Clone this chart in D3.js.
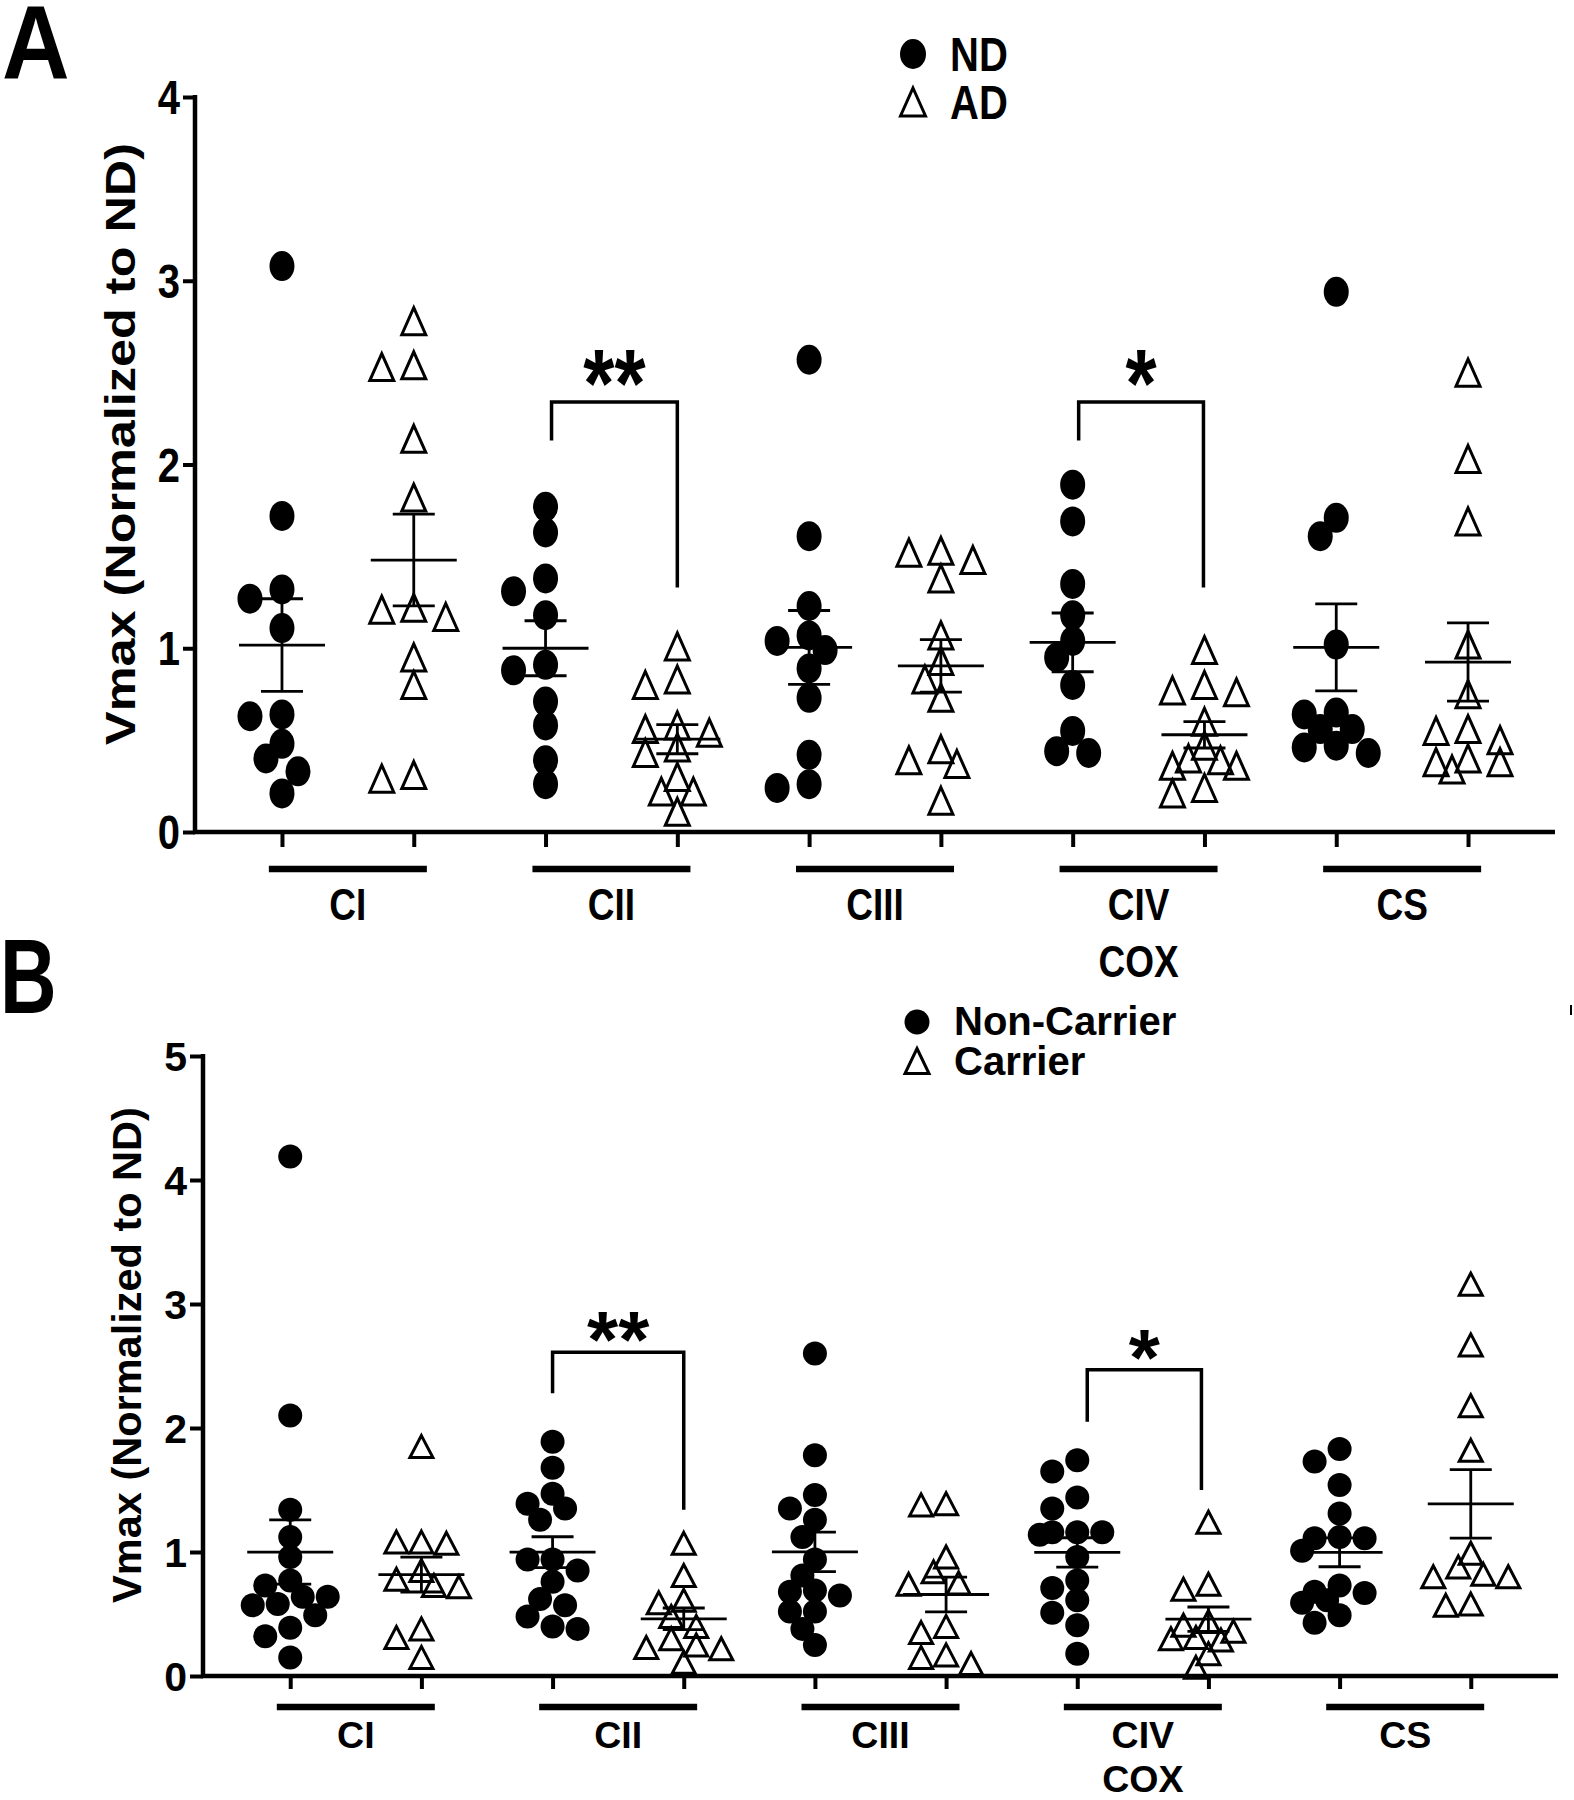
<!DOCTYPE html>
<html><head><meta charset="utf-8">
<script src="https://cdn.jsdelivr.net/npm/d3@7"></script>
<style>
body{margin:0;background:#fff}
svg{display:block}
text{font-family:"Liberation Sans",Arial,Helvetica,sans-serif;font-weight:bold;fill:#000}
</style>
</head><body>
<svg id="chart" width="1574" height="1800"></svg>
<script>
// ---------------- DATA ----------------
const complexes = ["CI","CII","CIII","CIV","CS"];
const categoryLabels = [["CI"],["CII"],["CIII"],["CIV","COX"],["CS"]];
const ticksA = [0,1,2,3,4];
const ticksB = [0,1,2,3,4,5];
const legendA = ["ND","AD"];
const legendB = ["Non-Carrier","Carrier"];
const yTitle = "Vmax (Normalized to ND)";

// Panel A: ND (filled circles) and AD (open triangles)
const A_ND_CI   = [3.08,1.72,1.32,1.27,1.11,0.63,0.64,0.48,0.40,0.33,0.21];
const A_ND_CII  = [1.77,1.63,1.38,1.31,1.18,0.91,0.88,0.71,0.58,0.39,0.26];
const A_ND_CIII = [2.57,1.61,1.23,1.07,1.04,0.99,0.89,0.73,0.42,0.26,0.24];
const A_ND_CIV  = [1.89,1.69,1.35,1.18,1.04,0.95,0.80,0.55,0.44,0.43];
const A_ND_CS   = [2.94,1.71,1.61,1.02,0.65,0.64,0.56,0.56,0.47,0.46,0.43];

const A_AD_CI   = [2.78,2.54,2.53,2.14,1.82,1.22,1.21,1.17,0.95,0.80,0.31,0.29];
const A_AD_CII  = [1.01,0.83,0.80,0.58,0.56,0.54,0.46,0.43,0.30,0.22,0.22,0.11];
const A_AD_CIII = [1.53,1.52,1.48,1.38,1.07,0.93,0.83,0.73,0.45,0.39,0.37,0.17];
const A_AD_CIV  = [0.99,0.80,0.77,0.76,0.60,0.47,0.40,0.39,0.36,0.36,0.24,0.21];
const A_AD_CS   = [2.50,2.03,1.69,1.02,0.75,0.56,0.55,0.50,0.40,0.38,0.38,0.34];

// Panel B: Non-Carrier (filled circles) and Carrier (open triangles)
const B_NC_CI   = [4.19,2.10,1.34,1.12,0.96,0.77,0.73,0.64,0.64,0.58,0.57,0.49,0.39,0.32,0.15];
const B_NC_CII  = [1.89,1.68,1.47,1.39,1.35,1.26,0.94,0.94,0.85,0.76,0.62,0.57,0.48,0.40,0.38];
const B_NC_CIII = [2.60,1.78,1.46,1.35,1.26,1.12,0.94,0.81,0.69,0.68,0.65,0.52,0.52,0.38,0.25];
const B_NC_CIV  = [1.74,1.65,1.44,1.35,1.16,1.16,1.16,1.14,0.96,0.77,0.71,0.61,0.51,0.41,0.18];
const B_NC_CS   = [1.83,1.73,1.54,1.31,1.12,1.11,1.11,1.01,0.73,0.68,0.67,0.61,0.59,0.49,0.43];

const B_C_CI    = [1.85,1.08,1.08,1.07,0.85,0.78,0.73,0.72,0.38,0.31,0.15];
const B_C_CII   = [1.07,0.81,0.61,0.59,0.48,0.40,0.30,0.25,0.23,0.22,0.11];
const B_C_CIII  = [1.39,1.38,0.96,0.84,0.75,0.74,0.40,0.35,0.17,0.15,0.10];
const B_C_CIV   = [1.24,0.74,0.70,0.44,0.41,0.36,0.31,0.30,0.29,0.18,0.07];
const B_C_CS    = [3.16,2.67,2.18,1.82,0.99,0.88,0.82,0.80,0.80,0.58,0.57];

// significance brackets: complex index, stars, bracket top, left leg end, right leg end (data units)
const sigA = [
  {c:1, stars:"**", top:2.34, left:2.13, right:1.33},
  {c:3, stars:"*",  top:2.34, left:2.13, right:1.33}
];
const sigB = [
  {c:1, stars:"**", top:2.61, left:2.28, right:1.34},
  {c:3, stars:"*",  top:2.47, left:2.05, right:1.50}
];

// ---------------- DRAWING ----------------
const svg = d3.select("#chart");

function text(g, x, y, str, fs, sx, sy, anchor, rot) {
  let t = `translate(${x},${y})`;
  if (rot) t += ` rotate(${rot})`;
  t += ` scale(${sx},${sy})`;
  return g.append("text").attr("transform", t)
    .attr("font-size", fs).attr("text-anchor", anchor || "start").text(str);
}

// compact beeswarm: lanes limited to +-maxK steps, overlap allowed up to a threshold
function swarm(values, yS, cx, step, w, h, maxK, thr) {
  const order = values.map((v,i)=>i).sort((a,b)=>values[b]-values[a]);
  const placed = [];
  const out = [];
  const cands = [0];
  for (let k = 1; k <= maxK; k++) { cands.push(-k); cands.push(k); }
  for (const i of order) {
    const y = yS(values[i]);
    let best = null, bestPen = Infinity;
    for (const k of cands) {
      const x = cx + k*step;
      let pen = 0;
      placed.forEach(p => {
        const d = ((p.x-x)/w)**2 + ((p.y-y)/h)**2;
        if (d < thr) pen += (thr - d);
      });
      pen += Math.abs(k)*1e-6;
      if (pen < bestPen - 1e-9) { bestPen = pen; best = x; }
      if (pen < 1e-3) { best = x; break; }
    }
    placed.push({x:best,y});
    out.push({x:best,y,v:values[i]});
  }
  return out;
}

function panel(cfg) {
  const g = svg.append("g");
  const keys = [];
  complexes.forEach(c => { keys.push(c+"|0"); keys.push(c+"|1"); });
  const x = d3.scalePoint().domain(keys).range([cfg.x0, cfg.x1]).padding(cfg.pad);
  const y = d3.scaleLinear().domain([0, cfg.ymax]).range([cfg.yb, cfg.yt]);
  const sy = cfg.sy;

  // y axis
  const yAx = g.append("g").attr("transform", `translate(${cfg.x0},0)`)
    .call(d3.axisLeft(y).tickValues(cfg.ticks).tickSize(cfg.ytick).tickFormat(""));
  yAx.select(".domain").remove();
  yAx.selectAll(".tick line").attr("stroke","#000").attr("stroke-width",4);
  g.append("line").attr("x1",cfg.x0).attr("x2",cfg.x0).attr("y1",y(cfg.ymax)-2).attr("y2",cfg.yb+2)
    .attr("stroke","#000").attr("stroke-width",4.5);
  cfg.ticks.forEach(t => {
    text(g, cfg.x0 - cfg.ytick - 3, y(t) + 0.716*cfg.tickFs*sy/2, String(t), cfg.tickFs, 1, sy, "end");
  });

  // x axis
  const xAx = g.append("g").attr("transform", `translate(0,${cfg.yb})`)
    .call(d3.axisBottom(x).tickSize(cfg.xtick).tickFormat(""));
  xAx.select(".domain").remove();
  xAx.selectAll(".tick line").attr("stroke","#000").attr("stroke-width",4);
  g.append("line").attr("x1",cfg.x0-2).attr("x2",cfg.x1).attr("y1",cfg.yb).attr("y2",cfg.yb)
    .attr("stroke","#000").attr("stroke-width",4.5);

  // group underline bars and labels
  complexes.forEach((c, i) => {
    const cx = (x(c+"|0") + x(c+"|1"))/2;
    g.append("line").attr("x1",cx-79).attr("x2",cx+79).attr("y1",cfg.barY).attr("y2",cfg.barY)
      .attr("stroke","#000").attr("stroke-width",6.5);
    categoryLabels[i].forEach((lab, j) => {
      text(g, cx, cfg.labY + j*cfg.labGap, lab, cfg.labFs, 1, sy, "middle");
    });
  });

  // data
  cfg.series.forEach((ser, s) => {
    ser.forEach((vals, i) => {
      const cx = x(complexes[i]+"|"+s);
      const pts = s === 0
        ? swarm(vals, y, cx, cfg.step, cfg.mw, cfg.mh, cfg.maxK, 0.62)
        : swarm(vals, y, cx, cfg.step, cfg.tw+3, cfg.th+4, cfg.maxK, 0.5);
      if (s === 0) {
        g.selectAll(null).data(pts).join("ellipse")
          .attr("cx", d=>d.x).attr("cy", d=>d.y).attr("rx", cfg.mw/2).attr("ry", cfg.mh/2)
          .attr("fill","#000");
      } else {
        const tw = cfg.tw, th = cfg.th;
        g.selectAll(null).data(pts).join("path")
          .attr("d", d => `M${d.x},${d.y-th/2}L${d.x+tw/2},${d.y+th/2}L${d.x-tw/2},${d.y+th/2}Z`)
          .attr("fill","none").attr("stroke","#000").attr("stroke-width",3)
          .attr("stroke-linejoin","miter");
      }
      // mean and SEM
      const m = d3.mean(vals);
      const se = d3.deviation(vals)/Math.sqrt(vals.length);
      const lw = 2.8;
      g.append("line").attr("x1",cx-43).attr("x2",cx+43).attr("y1",y(m)).attr("y2",y(m))
        .attr("stroke","#000").attr("stroke-width",lw);
      g.append("line").attr("x1",cx).attr("x2",cx).attr("y1",y(m+se)).attr("y2",y(m-se))
        .attr("stroke","#000").attr("stroke-width",lw);
      [m+se, m-se].forEach(v => {
        g.append("line").attr("x1",cx-21).attr("x2",cx+21).attr("y1",y(v)).attr("y2",y(v))
          .attr("stroke","#000").attr("stroke-width",lw);
      });
    });
  });

  // significance brackets
  cfg.sig.forEach((b, k) => {
    const xl = x(complexes[b.c]+"|0") + cfg.brIn[k][0];
    const xr = x(complexes[b.c]+"|1") + cfg.brIn[k][1];
    g.append("path")
      .attr("d", `M${xl},${y(b.left)}V${y(b.top)}H${xr}V${y(b.right)}`)
      .attr("fill","none").attr("stroke","#000").attr("stroke-width",3.5);
    text(g, (xl+xr)/2, y(b.top) + cfg.starDy, b.stars, cfg.starFs, 1, sy, "middle");
  });

  // y title
  text(g, cfg.titleX, cfg.titleY, yTitle, cfg.titleFs, sy, 1, "middle", -90);

  // legend
  const L = cfg.legend;
  g.append("ellipse").attr("cx",L.x).attr("cy",L.y1).attr("rx",L.cw/2).attr("ry",L.ch/2).attr("fill","#000");
  g.append("path").attr("d",`M${L.x},${L.y2-L.th/2}L${L.x+L.tw/2},${L.y2+L.th/2}L${L.x-L.tw/2},${L.y2+L.th/2}Z`)
    .attr("fill","none").attr("stroke","#000").attr("stroke-width",3);
  text(g, L.tx, L.b1, cfg.legendText[0], L.fs, 1, sy, "start");
  text(g, L.tx, L.b2, cfg.legendText[1], L.fs, 1, sy, "start");

  // panel letter
  text(g, cfg.letter.x, cfg.letter.y, cfg.letter.t, cfg.letter.fs, cfg.letter.sx, cfg.letter.sy, "start");
  return g;
}

panel({
  x0:195, x1:1555, pad:0.66, yb:832, yt:97, ymax:4, ticks:ticksA, sy:1.2,
  ytick:12, xtick:15, tickFs:40,
  barY:869, labY:920, labGap:57, labFs:37,
  series:[[A_ND_CI,A_ND_CII,A_ND_CIII,A_ND_CIV,A_ND_CS],[A_AD_CI,A_AD_CII,A_AD_CIII,A_AD_CIV,A_AD_CS]],
  step:16, maxK:2, mw:25, mh:30, tw:24, th:27,
  sig:sigA, brIn:[[6,0],[6,-1]], starFs:80, starDy:14,
  titleX:135, titleY:444, titleFs:42,
  legend:{x:913, y1:54, y2:102, cw:26, ch:30, tw:25, th:28, tx:950, b1:71, b2:119, fs:40},
  legendText:legendA,
  letter:{t:"A", x:2, y:78, fs:90, sx:1.04, sy:1.15}
});

panel({
  x0:203, x1:1558, pad:0.665, yb:1676, yt:1056, ymax:5, ticks:ticksB, sy:1,
  ytick:13, xtick:13, tickFs:41,
  barY:1707, labY:1748, labGap:44, labFs:37.5,
  series:[[B_NC_CI,B_NC_CII,B_NC_CIII,B_NC_CIV,B_NC_CS],[B_C_CI,B_C_CII,B_C_CIII,B_C_CIV,B_C_CS]],
  step:12.5, maxK:3, mw:24, mh:24, tw:23, th:22,
  sig:sigB, brIn:[[0,0],[10,-7]], starFs:80, starDy:15,
  titleX:141, titleY:1355, titleFs:41.5,
  legend:{x:917, y1:1022, y2:1061, cw:25, ch:25, tw:24, th:25, tx:954, b1:1035, b2:1075, fs:40},
  legendText:legendB,
  letter:{t:"B", x:0, y:1013, fs:106, sx:0.74, sy:1}
});

// small stray mark at right edge of panel B legend row
svg.append("line").attr("x1",1571).attr("x2",1571).attr("y1",1005).attr("y2",1015)
  .attr("stroke","#000").attr("stroke-width",2);
</script>
</body></html>
